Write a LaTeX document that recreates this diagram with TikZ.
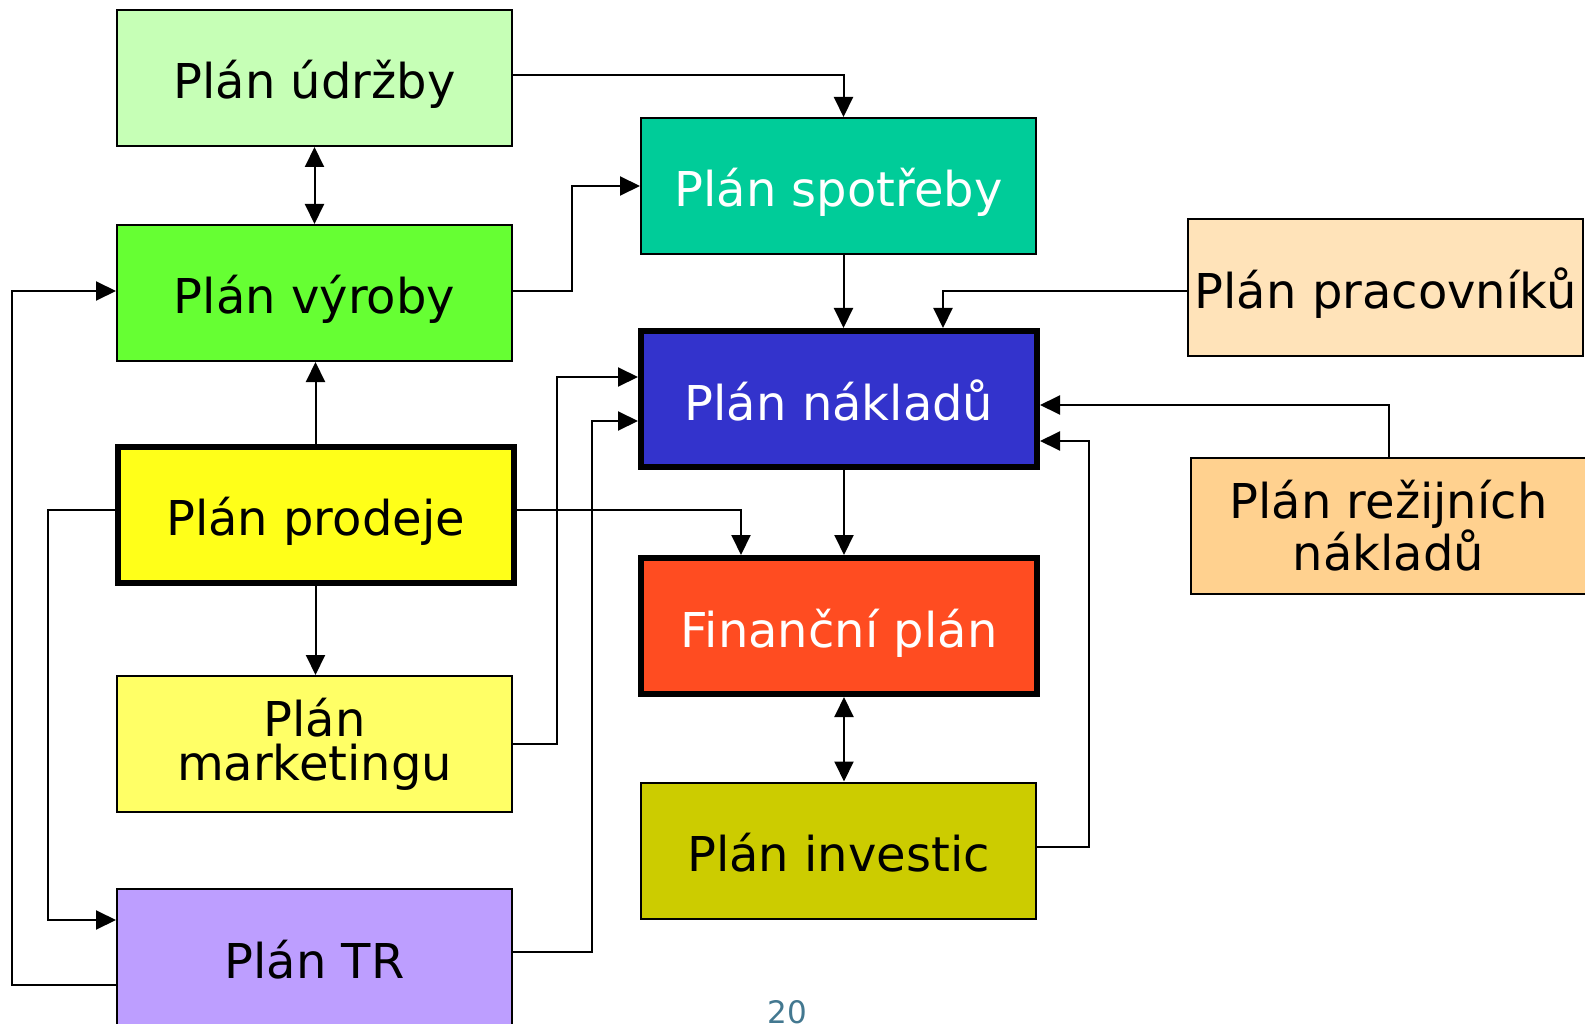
\documentclass[tikz,border=0pt]{standalone}
\usepackage{fontspec}
\setmainfont{DejaVu Sans}
\usetikzlibrary{arrows.meta,calc}
\definecolor{cUdr}{HTML}{C6FFB6}
\definecolor{cSpo}{HTML}{00CC99}
\definecolor{cVyr}{HTML}{66FF33}
\definecolor{cPra}{HTML}{FFE3B9}
\definecolor{cNak}{HTML}{3333CC}
\definecolor{cRez}{HTML}{FFD18F}
\definecolor{cPro}{HTML}{FFFF19}
\definecolor{cFin}{HTML}{FF4C21}
\definecolor{cMar}{HTML}{FFFF66}
\definecolor{cInv}{HTML}{CCCC00}
\definecolor{cTR}{HTML}{BD9EFF}
\definecolor{cNum}{HTML}{437890}
\tikzset{
  x=1pt, y=-1pt,
  box/.style={draw=black, line width=2pt, minimum width=395pt, minimum height=136pt,
    inner sep=0pt, align=center, font=\fontsize{48}{44}\selectfont},
  oneline/.style={text height=45pt, text depth=3pt},
  thickbox/.style={box, line width=6pt, minimum width=396pt, minimum height=136pt},
  conn/.style={line width=2pt, -{Triangle[length=20pt,width=19pt]}},
  bconn/.style={line width=2pt, {Triangle[length=20pt,width=19pt]}-{Triangle[length=20pt,width=19pt]}}
}
\begin{document}
\begin{tikzpicture}
\useasboundingbox (0,0) rectangle (1585,1024);
\clip (0,0) rectangle (1585,1024);
\fill[white] (0,0) rectangle (1585,1024);

\node[box, oneline, fill=cUdr] (udrzby) at (314.5,78) {Plán údržby};
\node[box, oneline, fill=cSpo, text=white] (spotreby) at (838.5,186) {Plán spotřeby};
\node[box, oneline, fill=cVyr] (vyroby) at (314.5,293) {Plán výroby};
\node[box, oneline, fill=cPra] (pracovniku) at (1385.5,287.5) {Plán pracovníků};
\node[thickbox, oneline, fill=cNak, text=white] (naklady) at (839,399) {Plán nákladů};
\node[box, fill=cRez] (rezijni) at (1388.5,526) {Plán režijních\\nákladů};
\node[thickbox, oneline, fill=cPro] (prodeje) at (315.5,514.5) {Plán prodeje};
\node[thickbox, oneline, fill=cFin, text=white] (financni) at (839,626) {Finanční plán};
\node[box, fill=cMar] (marketing) at (314.5,744) {Plán\\marketingu};
\node[box, oneline, fill=cInv] (investic) at (838.5,850.5) {Plán investic};
\node[box, oneline, fill=cTR] (tr) at (314.5,957) {Plán TR};
\node[text=cNum, font=\fontsize{31}{31}\selectfont, inner sep=0pt] (num) at (787,1012) {20};

% left column
\draw[bconn] (udrzby.south) -- (udrzby.south |- vyroby.north);
\draw[conn] (prodeje.north) -- (prodeje.north |- vyroby.south);
\draw[conn] (prodeje.south) -- (prodeje.south |- marketing.north);

% údržby -> spotřeby
\draw[conn] ([yshift=3pt]udrzby.east) -| ([xshift=5pt]spotreby.north);
% výroby -> spotřeby
\draw[conn] ([yshift=2pt]vyroby.east) -- ++(59,0) |- (spotreby.west);
% TR -> výroby
\draw[conn] ([yshift=-28pt]tr.west) -- ++(-104,0) |- ([yshift=2pt]vyroby.west);
% prodeje -> TR
\draw[conn] ([yshift=5pt]prodeje.west) -- ++(-67,0) |- ([yshift=37pt]tr.west);
% prodeje -> finanční
\draw[conn] ([yshift=5pt]prodeje.east) -| ([xshift=-98pt]financni.north);
% marketing -> náklady
\draw[conn] (marketing.east) -- ++(44,0) |- ([yshift=22pt]naklady.west);
% TR -> náklady
\draw[conn] ([yshift=5pt]tr.east) -- ++(79,0) |- ([yshift=-22pt]naklady.west);
% spotřeby -> náklady
\draw[conn] ([xshift=5pt]spotreby.south) -- ([xshift=5pt]spotreby.south |- naklady.north);
% pracovníků -> náklady
\draw[conn] ([yshift=-3.5pt]pracovniku.west) -| ([xshift=104pt]naklady.north);
% režijní -> náklady
\draw[conn] (rezijni.north) |- ([yshift=-6pt]naklady.east);
% investic -> náklady
\draw[conn] ([yshift=3.5pt]investic.east) -- ++(52,0) |- ([yshift=-42pt]naklady.east);
% náklady -> finanční
\draw[conn] ([xshift=5pt]naklady.south) -- ([xshift=5pt]naklady.south |- financni.north);
% finanční <-> investic
\draw[bconn] ([xshift=5pt]financni.south) -- ([xshift=5pt]financni.south |- investic.north);
\end{tikzpicture}
\end{document}
